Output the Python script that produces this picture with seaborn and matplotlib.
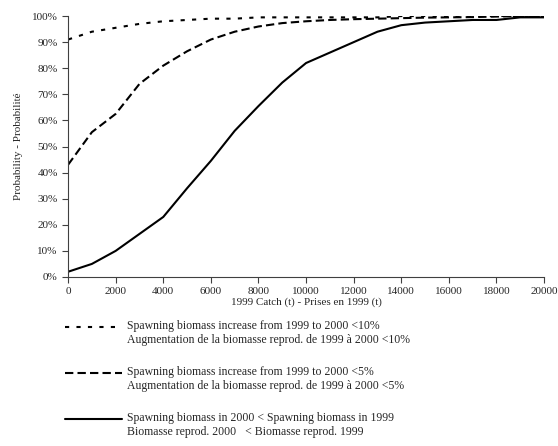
import numpy as np
import pandas as pd
import matplotlib
matplotlib.use("Agg")
import matplotlib.pyplot as plt
import seaborn as sns
from matplotlib.lines import Line2D
from matplotlib.ticker import PercentFormatter

catch = [0, 1000, 2000, 3000, 4000, 5000, 6000, 7000, 8000, 9000, 10000,
         11000, 12000, 13000, 14000, 15000, 16000, 17000, 18000, 19000, 20000]
prob_10pct = [91, 94, 95.5, 97, 98, 98.5, 99, 99, 99.5, 99.5, 99.5,
              99.5, 99.5, 99.5, 100, 100, 100, 100, 100, 100, 100]
prob_5pct = [43, 55.5, 62.5, 74, 81, 86.5, 91, 94, 96, 97.3, 98,
             98.5, 98.8, 99, 99.2, 99.4, 99.5, 99.6, 99.8, 100, 100]
prob_decline = [2, 5, 10, 16.5, 23, 34, 44.5, 56, 65.5, 74.5, 82,
                86, 90, 94, 96.5, 97.5, 98, 98.5, 98.5, 99.5, 99.5]

labels = [
    "Spawning biomass increase from 1999 to 2000 <10%\nAugmentation de la biomasse reprod. de 1999 à 2000 <10%",
    "Spawning biomass increase from 1999 to 2000 <5%\nAugmentation de la biomasse reprod. de 1999 à 2000 <5%",
    "Spawning biomass in 2000 < Spawning biomass in 1999\nBiomasse reprod. 2000   < Biomasse reprod. 1999",
]

df = pd.DataFrame({
    "catch": catch * 3,
    "prob": prob_10pct + prob_5pct + prob_decline,
    "series": [labels[0]] * len(catch) + [labels[1]] * len(catch) + [labels[2]] * len(catch),
})

sns.set_style("ticks")
plt.rcParams['font.family'] = ['Liberation Serif', 'DejaVu Serif']

fig = plt.figure(figsize=(5.58, 4.46), dpi=100)
ax = fig.add_axes([0.122, 0.379, 0.853, 0.585])

dash_styles = {labels[0]: (2, 3.5), labels[1]: (4, 2), labels[2]: ""}
sns.lineplot(data=df, x="catch", y="prob", hue="series", style="series",
             dashes=dash_styles, palette=["black"] * 3, linewidth=1.5, ax=ax,
             legend=False)

ax.set_xlim(0, 20000)
ax.set_ylim(0, 100)
ax.set_xticks(range(0, 20001, 2000))
ax.set_yticks(range(0, 101, 10))
ax.yaxis.set_major_formatter(PercentFormatter(decimals=0))
ax.tick_params(axis="both", labelsize=8, direction="out", length=4, color="#404040")
ax.set_xlabel("1999 Catch (t) - Prises en 1999 (t)", fontsize=8, labelpad=1)
ax.set_ylabel("Probability - Probabilité", fontsize=8, labelpad=6)
sns.despine(ax=ax)
for s in ["left", "bottom"]:
    ax.spines[s].set_color("#404040")

# legend below the plot, handle level with the first text line
W, H = 558, 446
for i, lab in enumerate(labels):
    yc = 327 + 46 * i
    ls = (0, dash_styles[lab]) if dash_styles[lab] else "-"
    fig.add_artist(Line2D([65 / W, 122 / W], [1 - yc / H, 1 - yc / H],
                          color="black", linewidth=1.5, linestyle=ls))
    fig.text(127 / W, 1 - (yc - 7) / H, lab, fontsize=8.5, va="top", ha="left",
             linespacing=1.25)

fig.savefig("out.png", dpi=100)
